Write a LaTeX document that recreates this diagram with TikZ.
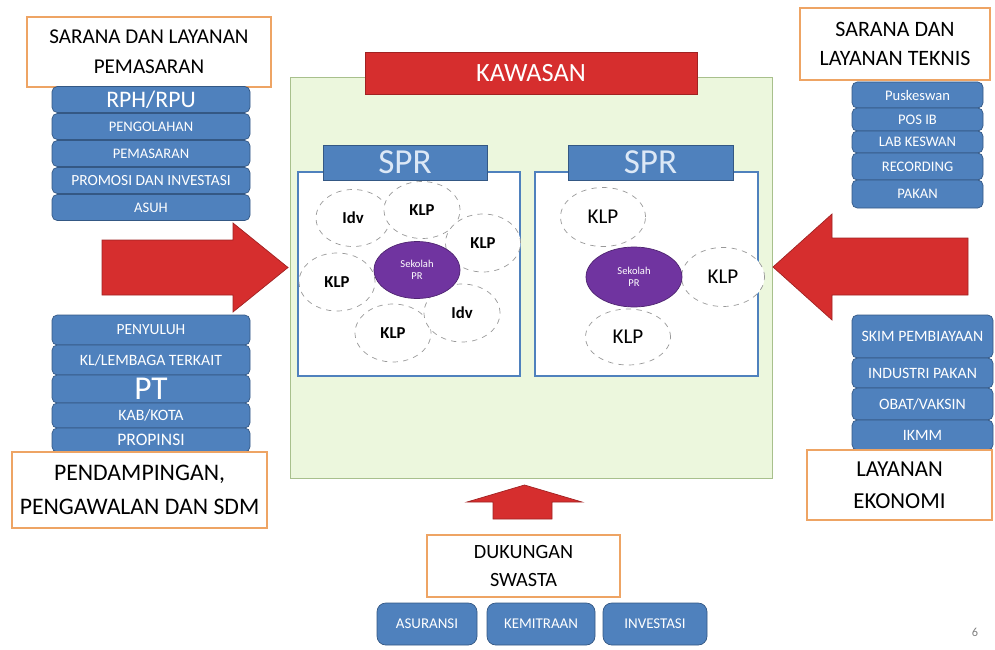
\documentclass[tikz,border=0pt]{standalone}
\usepackage{fontspec}
\setmainfont{Carlito}
\usepackage{xcolor}
\definecolor{kwblue}{RGB}{79,129,189}
\definecolor{kwblueline}{RGB}{52,88,132}
\definecolor{kworange}{RGB}{238,164,100}
\definecolor{kwgreen}{RGB}{236,247,221}
\definecolor{kwgreenline}{RGB}{168,192,140}
\definecolor{kwred}{RGB}{214,46,46}
\definecolor{kwpurple}{RGB}{112,52,160}
\definecolor{kwpale}{RGB}{220,232,246}
\usepackage{tikz}
\usetikzlibrary{shapes.geometric}

\tikzset{
  titlebox/.style={draw=kworange, line width=1.2pt, fill=white, align=center, inner sep=0pt,
    font=\fontsize{12}{17}\selectfont},
  listbox/.style={draw=kwblueline, fill=kwblue, rounded corners=3pt, text=white, inner sep=0pt,
    font=\fontsize{8.3}{9}\selectfont},
  member/.style={ellipse, draw=gray!80, dashed, fill=white, inner sep=0pt},
  school/.style={ellipse, draw=kwpurple!70!black, fill=kwpurple, text=white, align=center, inner sep=0pt,
    font=\fontsize{6}{7}\selectfont},
  sprhead/.style={draw=kwblueline, fill=kwblue, text=kwpale, inner sep=0pt,
    minimum width=3.3cm, minimum height=0.7cm, font=\fontsize{20}{22}\selectfont},
  sprbox/.style={draw=kwblue, line width=1.2pt, fill=white, inner sep=0pt,
    minimum width=4.44cm, minimum height=4.08cm},
  bigarrow/.style={fill=kwred, draw=kwred!75!black}
}

\begin{document}
\begin{tikzpicture}
  \useasboundingbox (0,0) rectangle (19.9,12.98);

  % --- Kawasan ---
  \node[draw=kwgreenline, fill=kwgreen, minimum width=9.64cm, minimum height=8.02cm, inner sep=0pt] (kawasan) at (10.62,7.43) {};
  \node[draw=kwred!75!black, fill=kwred, text=white, minimum width=6.64cm, minimum height=0.84cm,
    font=\fontsize{15}{17}\selectfont] (kawasanbar) at (10.62,11.52) {KAWASAN};

  % SPR left
  \node[sprbox] (sprboxA) at (8.18,7.5) {};
  \node[sprhead, minimum width=3.28cm] (sprA) at (8.1,9.73) {SPR};
  \node[member, minimum width=1.48cm, minimum height=1.14cm, font=\bfseries\fontsize{9.5}{11}\selectfont] (idvA) at (7.06,8.62) {Idv};
  \node[member, minimum width=1.52cm, minimum height=1.14cm, font=\bfseries\fontsize{9.5}{11}\selectfont] (klpA) at (8.44,8.78) {KLP};
  \node[member, minimum width=1.5cm, minimum height=1.16cm, font=\bfseries\fontsize{9.5}{11}\selectfont] (klpB) at (9.66,8.12) {KLP};
  \node[member, minimum width=1.52cm, minimum height=1.16cm, font=\bfseries\fontsize{9.5}{11}\selectfont] (klpC) at (6.74,7.34) {KLP};
  \node[member, minimum width=1.52cm, minimum height=1.16cm, font=\bfseries\fontsize{9.5}{11}\selectfont] (klpD) at (7.86,6.32) {KLP};
  \node[member, minimum width=1.52cm, minimum height=1.16cm, font=\bfseries\fontsize{9.5}{11}\selectfont] (idvB) at (9.24,6.72) {Idv};
  \node[school, minimum width=1.72cm, minimum height=1.14cm] (schoolA) at (8.34,7.58) {Sekolah\\PR};

  % SPR right
  \node[sprbox, minimum width=4.46cm] (sprboxB) at (12.93,7.5) {};
  \node[sprhead] (sprB) at (13.01,9.73) {SPR};
  \node[member, minimum width=1.7cm, minimum height=1.18cm, font=\fontsize{12}{14}\selectfont] (klpE) at (12.06,8.64) {KLP};
  \node[member, minimum width=1.66cm, minimum height=1.18cm, font=\fontsize{12}{14}\selectfont] (klpF) at (14.46,7.44) {KLP};
  \node[member, minimum width=1.7cm, minimum height=1.12cm, font=\fontsize{12}{14}\selectfont] (klpG) at (12.56,6.24) {KLP};
  \node[school, minimum width=1.92cm, minimum height=1.2cm] (schoolB) at (12.68,7.44) {Sekolah\\PR};

  % --- Left top: pemasaran ---
  \node[titlebox, minimum width=4.88cm, minimum height=1.4cm] (pasar) at (2.98,11.94) {SARANA DAN LAYANAN\\PEMASARAN};
  \node[listbox, minimum width=3.96cm, minimum height=0.52cm, font=\fontsize{13.5}{14}\selectfont] (rph) at (3.02,10.99) {RPH/RPU};
  \node[listbox, minimum width=3.96cm, minimum height=0.52cm] (olah) at (3.02,10.45) {PENGOLAHAN};
  \node[listbox, minimum width=3.96cm, minimum height=0.52cm] (masar) at (3.02,9.91) {PEMASARAN};
  \node[listbox, minimum width=3.96cm, minimum height=0.52cm, font=\fontsize{8.8}{9}\selectfont] (promosi) at (3.02,9.37) {PROMOSI DAN INVESTASI};
  \node[listbox, minimum width=3.96cm, minimum height=0.52cm] (asuh) at (3.02,8.83) {ASUH};

  % --- Left bottom: pendampingan ---
  \node[listbox, minimum width=3.96cm, minimum height=0.6cm, font=\fontsize{8.8}{9}\selectfont] (suluh) at (3.02,6.38) {PENYULUH};
  \node[listbox, minimum width=3.96cm, minimum height=0.6cm, font=\fontsize{9}{10}\selectfont] (lembaga) at (3.02,5.78) {KL/LEMBAGA TERKAIT};
  \node[listbox, minimum width=3.96cm, minimum height=0.56cm, font=\fontsize{19}{20}\selectfont] (pt) at (3.02,5.2) {PT};
  \node[listbox, minimum width=3.96cm, minimum height=0.5cm, font=\fontsize{9}{10}\selectfont] (kab) at (3.02,4.67) {KAB/KOTA};
  \node[listbox, minimum width=3.96cm, minimum height=0.48cm, font=\fontsize{10}{11}\selectfont] (prop) at (3.02,4.18) {PROPINSI};
  \node[titlebox, minimum width=5.1cm, minimum height=1.52cm, font=\fontsize{13.5}{19}\selectfont] (damping) at (2.79,3.18) {PENDAMPINGAN,\\PENGAWALAN DAN SDM};

  % --- Right top: teknis ---
  \node[titlebox, minimum width=3.8cm, minimum height=1.44cm, font=\fontsize{12.5}{17}\selectfont] (teknis) at (17.9,12.1) {SARANA DAN\\LAYANAN TEKNIS};
  \node[listbox, minimum width=2.62cm, minimum height=0.52cm] (puskes) at (18.35,11.08) {Puskeswan};
  \node[listbox, minimum width=2.62cm, minimum height=0.46cm] (posib) at (18.35,10.59) {POS IB};
  \node[listbox, minimum width=2.62cm, minimum height=0.44cm] (labkes) at (18.35,10.14) {LAB KESWAN};
  \node[listbox, minimum width=2.62cm, minimum height=0.54cm] (record) at (18.35,9.65) {RECORDING};
  \node[listbox, minimum width=2.62cm, minimum height=0.56cm] (pakan) at (18.35,9.1) {PAKAN};

  % --- Right bottom: ekonomi ---
  \node[listbox, minimum width=2.82cm, minimum height=0.86cm, font=\fontsize{9}{10}\selectfont] (skim) at (18.45,6.25) {SKIM PEMBIAYAAN};
  \node[listbox, minimum width=2.82cm, minimum height=0.6cm, font=\fontsize{9}{10}\selectfont] (industri) at (18.45,5.52) {INDUSTRI PAKAN};
  \node[listbox, minimum width=2.82cm, minimum height=0.64cm, font=\fontsize{9}{10}\selectfont] (obat) at (18.45,4.9) {OBAT/VAKSIN};
  \node[listbox, minimum width=2.82cm, minimum height=0.6cm, font=\fontsize{9}{10}\selectfont] (ikmm) at (18.45,4.28) {IKMM};
  \node[titlebox, minimum width=3.7cm, minimum height=1.4cm, font=\fontsize{13}{18}\selectfont] (ekonomi) at (17.99,3.28) {LAYANAN\\EKONOMI};

  % --- Bottom: swasta ---
  \node[titlebox, minimum width=3.86cm, minimum height=1.24cm, font=\fontsize{11.5}{16}\selectfont] (swasta) at (10.47,1.66) {DUKUNGAN\\SWASTA};
  \node[listbox, rounded corners=5pt, minimum width=2.0cm, minimum height=0.84cm, font=\fontsize{8.5}{9}\selectfont] (asuransi) at (8.54,0.5) {ASURANSI};
  \node[listbox, rounded corners=5pt, minimum width=2.16cm, minimum height=0.84cm, font=\fontsize{8.5}{9}\selectfont] (mitra) at (10.82,0.5) {KEMITRAAN};
  \node[listbox, rounded corners=5pt, minimum width=2.08cm, minimum height=0.84cm, font=\fontsize{8.5}{9}\selectfont] (investasi) at (13.1,0.5) {INVESTASI};

  % Big arrows into kawasan
  \draw[bigarrow] (2.04,8.18) -- (4.66,8.18) -- (4.66,8.52) -- (5.76,7.63) -- (4.66,6.74) -- (4.66,7.08) -- (2.04,7.08) -- cycle;
  \draw[bigarrow] (19.36,8.22) -- (16.64,8.22) -- (16.64,8.7) -- (15.46,7.64) -- (16.64,6.58) -- (16.64,7.08) -- (19.36,7.08) -- cycle;
  \draw[bigarrow] (9.86,2.6) -- (9.86,2.94) -- (9.34,2.94) -- (10.49,3.28) -- (11.64,2.94) -- (11.04,2.94) -- (11.04,2.6) -- cycle;

  \node[text=gray, font=\fontsize{7}{8}\selectfont] (pagenum) at (19.5,0.34) {6};
\end{tikzpicture}
\end{document}
